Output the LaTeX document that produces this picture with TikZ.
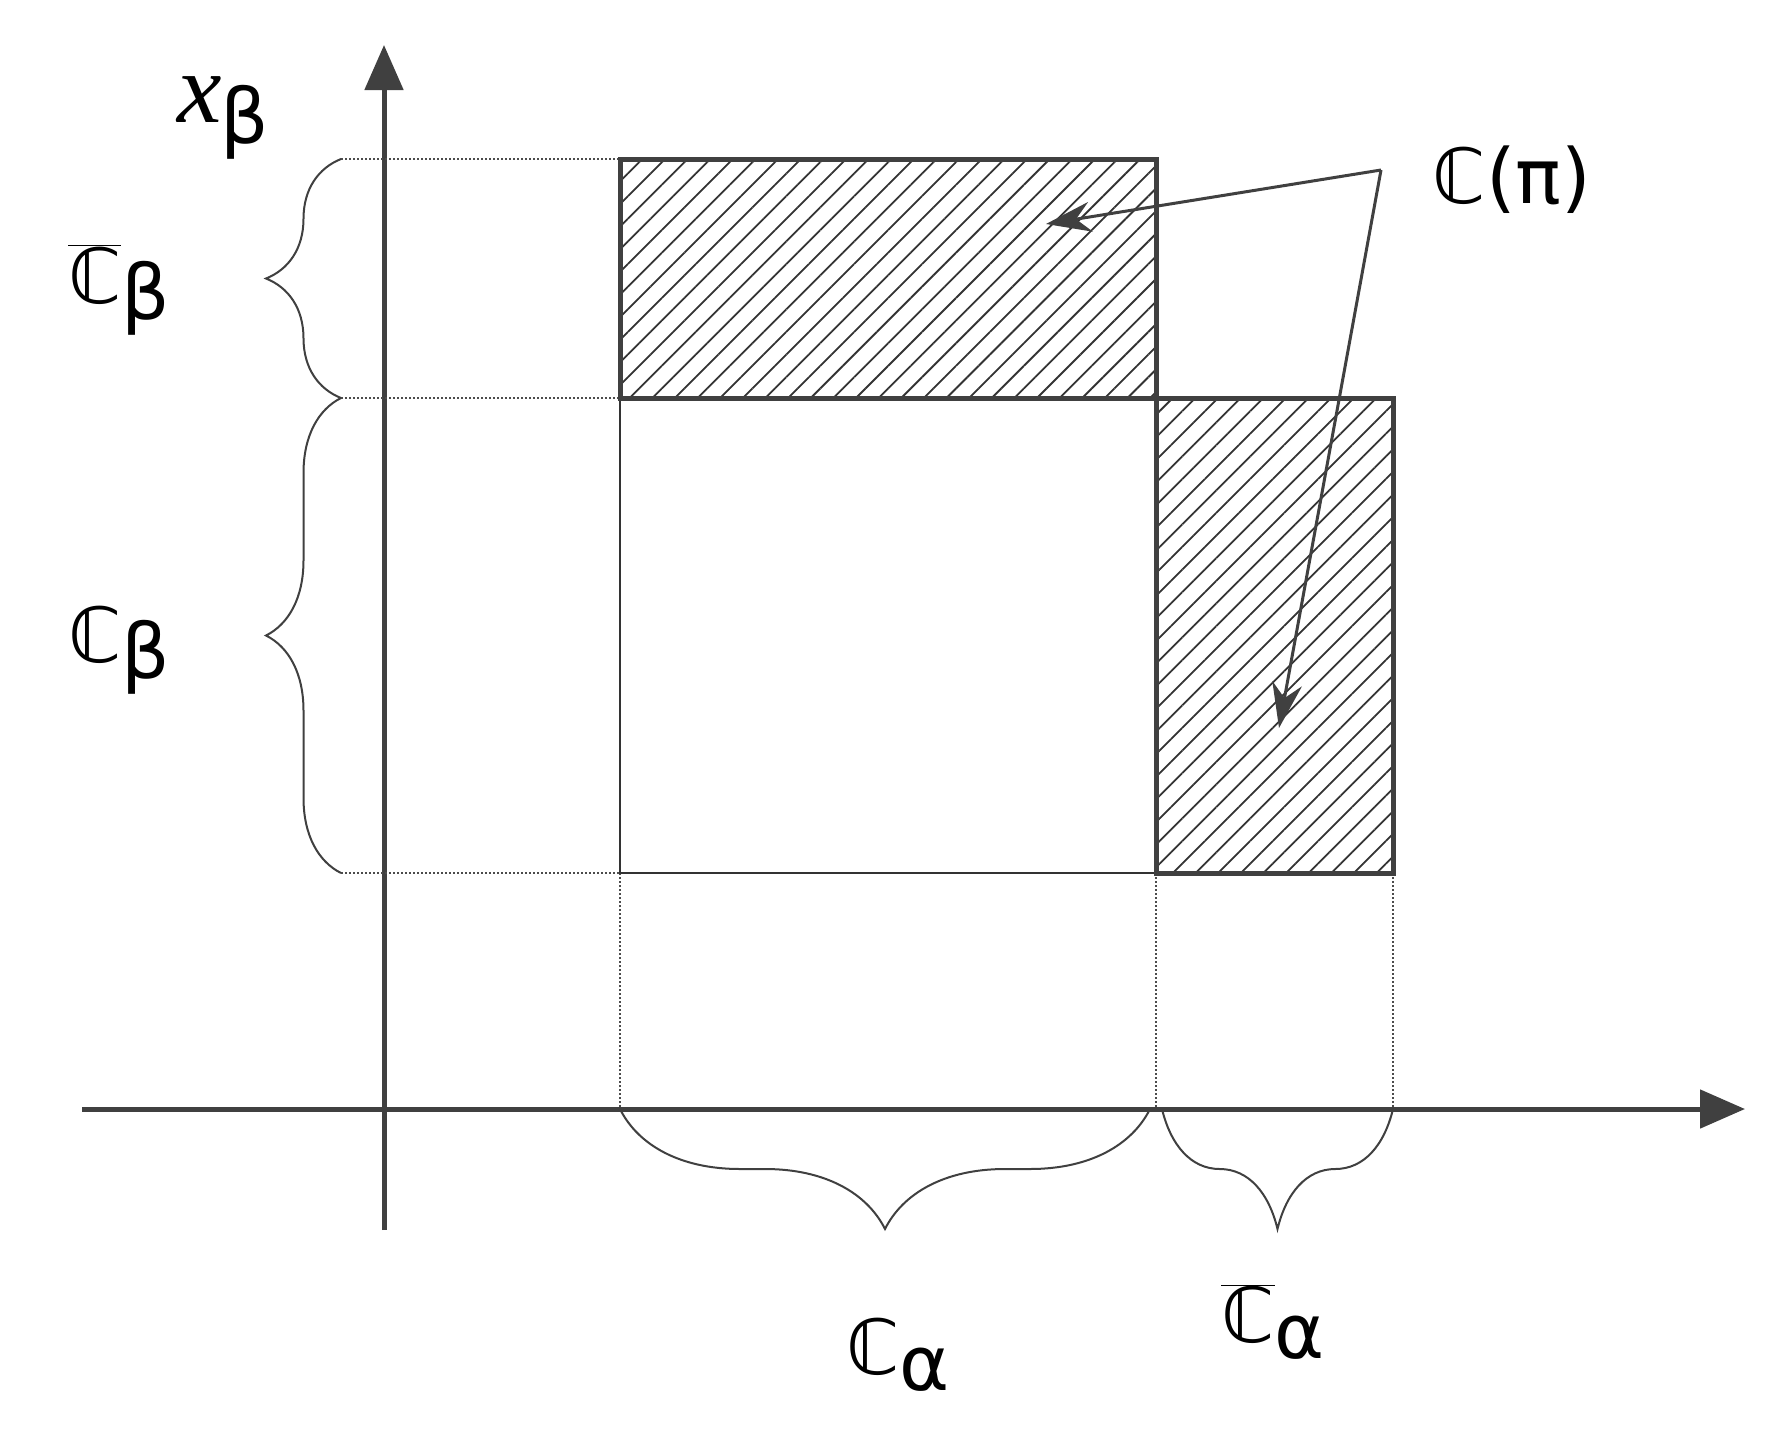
\documentclass[tikz,border=0pt]{standalone}
\usepackage{fontspec}
\setmainfont{DejaVu Sans}
\newfontfamily\serif{Liberation Serif}
\usetikzlibrary{patterns.meta,decorations.pathreplacing,arrows.meta}
\begin{document}
\begin{tikzpicture}[x=1pt,y=-1pt,
  ax/.style={line width=5pt,draw=black!75,-{Triangle[length=45pt,width=38pt]}},
  thin/.style={line width=2pt,draw=black!80},
  dot/.style={line width=2pt,draw=black!70,dotted},
  box/.style={line width=5pt,draw=black!75,pattern={Lines[angle=45,distance=16pt,line width=1.8pt]},pattern color=black!80},
  brc/.style={line width=2pt,draw=black!75,decorate,decoration={brace,amplitude=#1}},
  lab/.style={font=\fontsize{76}{80}\selectfont,inner sep=0pt},
  pt/.style={line width=3pt,draw=black!75,-{Stealth[length=45pt,width=30pt]}}]
\useasboundingbox (0,0) rectangle (1774,1435);
% axes
\coordinate (ys) at (384,1230); \coordinate (ye) at (384,45);
\coordinate (xs) at (82,1109); \coordinate (xe) at (1745,1109);
\draw[ax] (ys) -- (ye);
\draw[ax] (xs) -- (xe);
% dotted guides
\draw[dot] (341,159) -- (620,159);
\draw[dot] (341,398) -- (620,398);
\draw[dot] (341,873) -- (620,873);
\draw[dot] (620,873) -- (620,1109);
\draw[dot] (1156,873) -- (1156,1109);
\draw[dot] (1393,873) -- (1393,1109);
% inner white rect
\draw[thin] (620,398) -- (620,873) -- (1156,873);
% hatched boxes
\draw[box] (620,159) rectangle (1156,398);
\draw[box] (1156,398) rectangle (1393,873);
% braces
\draw[brc=75pt] (341,398) -- (341,159);
\draw[brc=75pt] (341,873) -- (341,398);
\draw[brc=120pt] (1150,1109) -- (620,1109);
\draw[brc=120pt] (1393,1109) -- (1162,1109);
% labels
\node[lab,font=\serif\itshape\fontsize{100}{100}\selectfont] (xb) at (200,100) {x};
\node[lab] (xbs) at (245,122) {β};
\node[lab] (cbb) at (119,290) {$\overline{\hbox{ℂ}}$\raisebox{-16pt}{β}};
\node[lab] (cb) at (119,650) {ℂ\raisebox{-16pt}{β}};
\node[lab] (ca) at (898,1355) {ℂ\raisebox{-16pt}{α}};
\node[lab] (cab) at (1273,1322) {$\overline{\hbox{ℂ}}$\raisebox{-16pt}{α}};
\node[lab] (cpi) at (1512,180) {ℂ(π)};
\coordinate (fork) at (1381,170);
\coordinate (t1) at (1046,224);
\coordinate (t2) at (1279,728);
\draw[pt] (fork) -- (t1);
\draw[pt] (fork) -- (t2);
\end{tikzpicture}
\end{document}
